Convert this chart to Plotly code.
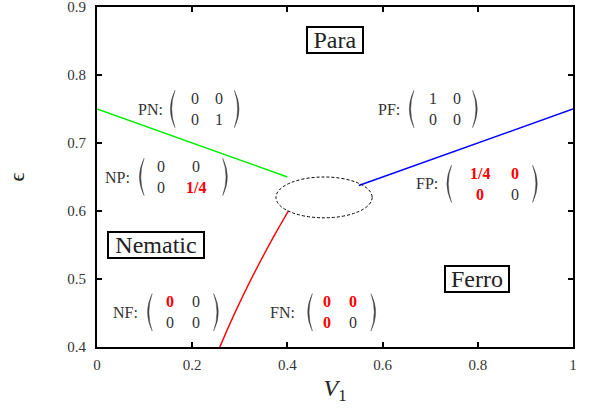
import plotly.graph_objects as go

# ---------------- data ----------------
green_x = [0.0, 0.4]
green_y = [0.75, 0.65]
blue_x = [0.55, 1.0]
blue_y = [0.6375, 0.75]
red_x = [0.258, 0.2734, 0.2895, 0.3064, 0.324, 0.3424, 0.3615, 0.3814, 0.402]
red_y = [0.40, 0.425, 0.45, 0.475, 0.50, 0.525, 0.55, 0.575, 0.60]

x_ticks = [0, 0.2, 0.4, 0.6, 0.8, 1]
y_ticks = [0.4, 0.5, 0.6, 0.7, 0.8, 0.9]

phase_names = ["Para", "Nematic", "Ferro"]
phase_x = [0.5, 0.124, 0.799]
phase_y = [0.851, 0.55, 0.4995]

matrix_names = ["PN", "NP", "PF", "FP", "NF", "FN"]
matrix_entries = [
    [["0", "0"], ["0", "1"]],
    [["0", "0"], ["0", "1/4"]],
    [["1", "0"], ["0", "0"]],
    [["1/4", "0"], ["0", "0"]],
    [["0", "0"], ["0", "0"]],
    [["0", "0"], ["0", "0"]],
]
matrix_red = [
    [[0, 0], [0, 0]],
    [[0, 0], [0, 1]],
    [[0, 0], [0, 0]],
    [[1, 1], [1, 0]],
    [[1, 0], [0, 0]],
    [[1, 1], [1, 0]],
]

# ellipse (data coords)
ell_cx, ell_cy, ell_rx, ell_ry = 0.477, 0.620, 0.101, 0.030

# ---------------- layout ----------------
phase_box_w = [52, 92, 60]
phase_box_h = 22

# label right edge x, centre y, left paren x, col1 x, col2 x, right paren x
mat_pos = [
    (0.143, 0.750, 0.159, 0.206, 0.257, 0.2935),
    (0.073, 0.650, 0.094, 0.1345, 0.208, 0.269),
    (0.640, 0.750, 0.661, 0.7065, 0.7557, 0.794),
    (0.7206, 0.640, 0.740, 0.8046, 0.878, 0.920),
    (0.090, 0.451, 0.111, 0.1534, 0.208, 0.250),
    (0.4195, 0.451, 0.4475, 0.4838, 0.5384, 0.5805),
]
ROW_DY = 0.0154
PAREN_H = 0.0275
PAREN_W = 0.0099
PAREN_T = 0.0030

SERIF = "Liberation Serif"
TXT = "#333333"

fig = go.Figure()
fig.add_trace(go.Scatter(x=green_x, y=green_y, mode="lines",
                         line=dict(color="#00f000", width=1.5), showlegend=False))
fig.add_trace(go.Scatter(x=blue_x, y=blue_y, mode="lines",
                         line=dict(color="#0000ff", width=1.5), showlegend=False))
fig.add_trace(go.Scatter(x=red_x, y=red_y, mode="lines",
                         line=dict(color="#ff0000", width=1.5, shape="spline", smoothing=0.6),
                         showlegend=False))

shapes = []
shapes.append(dict(type="circle", xref="x", yref="y",
                   x0=ell_cx - ell_rx, x1=ell_cx + ell_rx,
                   y0=ell_cy - ell_ry, y1=ell_cy + ell_ry,
                   line=dict(color="black", width=1, dash="3px,2px")))


def paren(xc, yc, side):
    top, bot = yc + PAREN_H, yc - PAREN_H
    if side == "L":
        xe = xc + PAREN_W / 2
        co = xc - 1.5 * PAREN_W
        ci = co + 2 * PAREN_T
    else:
        xe = xc - PAREN_W / 2
        co = xc + 1.5 * PAREN_W
        ci = co - 2 * PAREN_T
    return (f"M {xe},{top} Q {co},{yc} {xe},{bot} "
            f"Q {ci},{yc} {xe},{top} Z")


annotations = []
for name, ent, red, pos in zip(matrix_names, matrix_entries, matrix_red, mat_pos):
    lx, yc, lp, c1, c2, rp = pos
    annotations.append(dict(x=lx, y=yc, xref="x", yref="y", text=name + ":",
                            showarrow=False, xanchor="right", yanchor="middle",
                            font=dict(family=SERIF, size=16, color=TXT)))
    for side, px in (("L", lp), ("R", rp)):
        shapes.append(dict(type="path", xref="x", yref="y", path=paren(px, yc, side),
                           fillcolor="#444444", line=dict(width=0.4, color="#444444")))
    for r, ry in enumerate((yc + ROW_DY, yc - ROW_DY)):
        for c, cx in enumerate((c1, c2)):
            is_red = red[r][c] == 1
            t = ent[r][c]
            annotations.append(dict(
                x=cx, y=ry, xref="x", yref="y",
                text=f"<b>{t}</b>" if is_red else t,
                showarrow=False, xanchor="center", yanchor="middle",
                font=dict(family=SERIF, size=16,
                          color="#ff0000" if is_red else TXT)))

for name, px, py, bw in zip(phase_names, phase_x, phase_y, phase_box_w):
    annotations.append(dict(x=px, y=py, xref="x", yref="y", text=name,
                            showarrow=False, xanchor="center", yanchor="middle",
                            width=bw, height=phase_box_h, align="center", valign="middle",
                            font=dict(family=SERIF, size=24, color="#222222"),
                            bordercolor="black", borderwidth=2, borderpad=1,
                            bgcolor="white"))

axis_common = dict(showline=True, linecolor="black", linewidth=2, mirror="ticks",
                   ticks="inside", ticklen=5, tickwidth=1.5, tickcolor="black",
                   showgrid=False, zeroline=False, automargin=False,
                   ticklabeloverflow="allow",
                   tickfont=dict(family=SERIF, size=15, color=TXT))

fig.update_layout(
    width=595, height=411,
    margin=dict(l=97, r=22, t=7, b=64),
    plot_bgcolor="white", paper_bgcolor="white",
    shapes=shapes, annotations=annotations,
    xaxis=dict(range=[0, 1], tickvals=x_ticks, ticktext=[str(v) for v in x_ticks],
               title=dict(text="<i>V</i><sub>1</sub>",
                          font=dict(family=SERIF, size=24, color="#222222"),
                          standoff=7),
               ticklabelstandoff=3, **axis_common),
    yaxis=dict(range=[0.4, 0.9], tickvals=y_ticks, ticktext=[str(v) for v in y_ticks],
               title=dict(text="ϵ", font=dict(family=SERIF, size=22, color="#222222"),
                          standoff=37),
               ticklabelstandoff=6, **axis_common),
)

fig.write_html("out.html", config={"displayModeBar": False},
               post_script="document.body.style.margin='0';document.body.style.padding='0';")
